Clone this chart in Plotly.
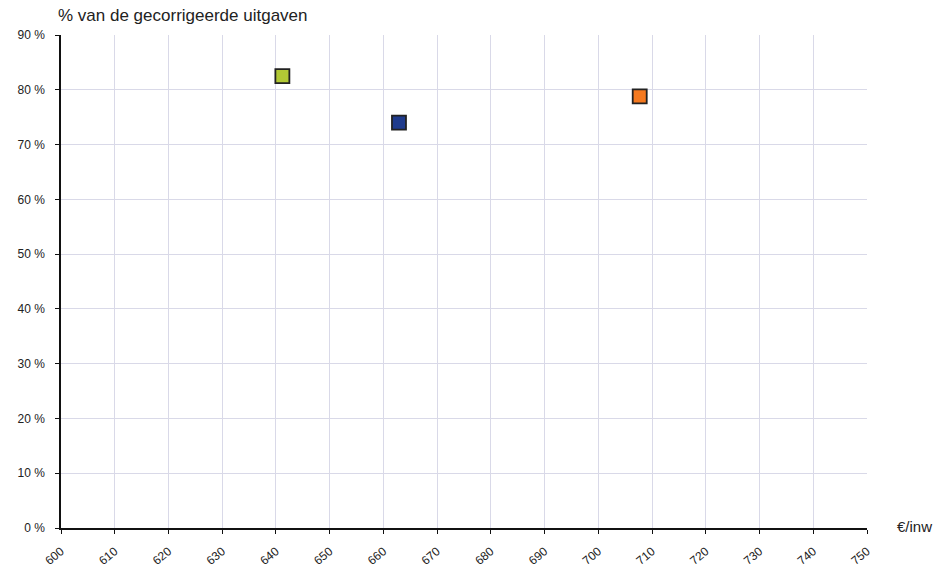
import plotly.graph_objects as go

# Uitgaven per inwoner (€) en aandeel van de gecorrigeerde uitgaven (%)
x_values = [641.2, 662.9, 707.7]
y_values = [82.5, 74.0, 78.8]
colors = ["#b2c935", "#1f3b8c", "#f5791f"]

x_ticks = list(range(600, 751, 10))
y_ticks = list(range(0, 91, 10))

fig = go.Figure()
for xv, yv, c in zip(x_values, y_values, colors):
    fig.add_trace(go.Scatter(
        x=[xv], y=[yv], mode="markers",
        marker=dict(symbol="square", size=14, color=c,
                    line=dict(color="#222222", width=1.8)),
        showlegend=False, hoverinfo="x+y",
    ))

fig.update_layout(
    width=940, height=573,
    margin=dict(l=61, r=73, t=35, b=45),
    plot_bgcolor="white", paper_bgcolor="white",
    font=dict(family="Liberation Sans, Arial, sans-serif", size=11, color="#222222"),
    annotations=[
        dict(text="% van de gecorrigeerde uitgaven", xref="paper", yref="paper",
             x=0, y=1, xshift=-5, yshift=20, xanchor="left", yanchor="middle",
             showarrow=False, font=dict(size=17, color="#222222")),
        dict(text="€/inw", xref="paper", yref="paper",
             x=1, y=0, xshift=28, yshift=2, xanchor="left", yanchor="middle",
             showarrow=False, font=dict(size=15, color="#222222")),
    ],
)
fig.update_xaxes(
    range=[600, 750], tickvals=x_ticks, ticktext=[str(v) for v in x_ticks],
    tickangle=-40, showgrid=True, gridcolor="#d9d9e8", gridwidth=1,
    showline=True, linecolor="#111111", linewidth=1.5,
    ticks="outside", ticklen=4, tickcolor="#111111", zeroline=False,
    tickfont=dict(size=12), ticklabelstandoff=6, automargin=False,
)
fig.update_yaxes(
    range=[0, 90], tickvals=y_ticks, ticktext=[f"{v} %" for v in y_ticks],
    showgrid=True, gridcolor="#d9d9e8", gridwidth=1,
    showline=True, linecolor="#111111", linewidth=1.5,
    ticks="outside", ticklen=4, tickcolor="#111111", zeroline=False,
    tickfont=dict(size=12), ticklabelstandoff=8, automargin=False,
)

fig.write_html("out.html")
